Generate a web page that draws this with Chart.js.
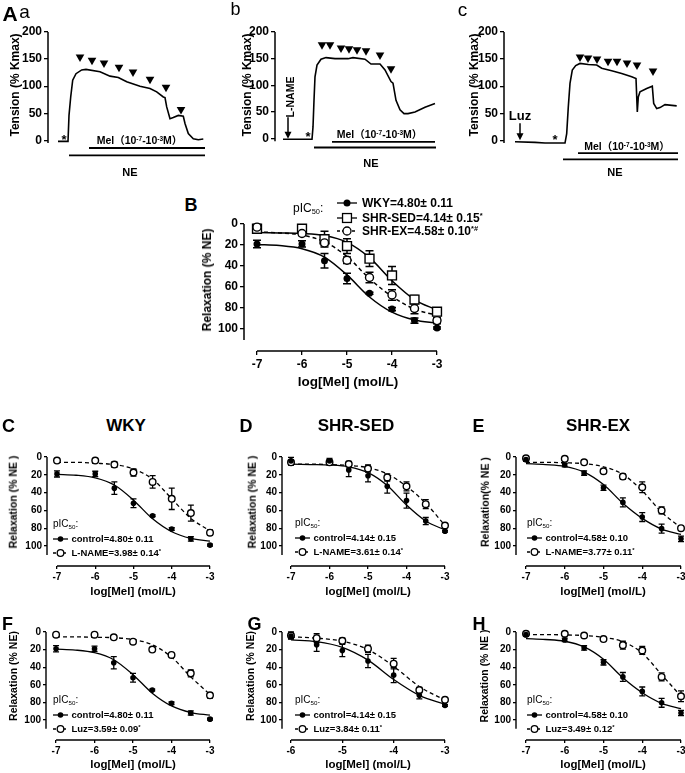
<!DOCTYPE html>
<html><head><meta charset="utf-8">
<script src="https://cdn.jsdelivr.net/npm/chart.js@4.4.1/dist/chart.umd.min.js"></script>
<style>
html,body{margin:0;padding:0;background:#fff;}
body{width:685px;height:773px;position:relative;overflow:hidden;font-family:"Liberation Sans",Arial,"Noto Sans CJK SC",sans-serif;color:#000;}
canvas{position:absolute;}
.t{position:absolute;white-space:nowrap;line-height:1;}
.sup{font-size:.62em;position:relative;top:-.5em;}
.sub{font-size:.62em;position:relative;top:.3em;}
</style></head><body>
<script>
// ================= DATA =================
// dose-response (log[Mel] mol/L)
const doses  = [-7, -6, -5.5, -5, -4.5, -4, -3.5, -3];
const fitX   = [-7, -6.5, -6, -5.5, -5, -4.5, -4, -3.5, -3];
const xTicks  = [-7, -6, -5, -4, -3];
const xTicksG = [-6, -5, -4, -3];
const relaxTicks   = [0, 20, 40, 60, 80, 100];
const tensionTicks = [0, 50, 100, 150, 200];

const wkyMean = [19, 19, 35, 52, 66, 81, 92, 99];
const wkySem  = [3.5, 3, 7, 5, 1, 1.5, 2.5, 1];
const wkyFit  = [19.5, 20.5, 23.5, 31.5, 48.5, 69.5, 84, 91.5, 94.5];

const sedMean = [4.5, 4.5, 14.5, 21, 33, 49, 72, 83.5];
const sedSem  = [4, 3, 7.5, 7, 7.5, 8.5, 4, 1];
const sedFit  = [8, 8.5, 9, 11, 17.5, 32, 54, 72, 82];

const exMean = [3, 9, 18, 34.5, 51, 67.5, 80.5, 92];
const exSem  = [2, 2, 2.5, 3, 5, 5, 5, 3];
const exFit  = [7.5, 8.5, 10.5, 17, 31, 52, 69, 81, 87];

const lnameWkyMean = [4, 4, 8.5, 17.5, 28, 47, 63, 85];
const lnameWkySem  = [1, 1, 3, 4, 7, 12, 9, 3];
const lnameWkyFit  = [6, 6, 7, 8.5, 13.5, 25, 47, 69, 83];

const lnameSedMean = [6, 6, 8, 13, 23, 33, 53, 77];
const lnameSedSem  = [3, 3, 3, 4, 4, 5, 5, 1.5];
const lnameSedFit  = [8, 8, 8.5, 9.5, 12, 19, 33, 52, 77];

const lnameExMean = [1.5, 2, 6, 16, 22, 34, 60, 80];
const lnameExSem  = [1, 1, 1.5, 2, 3, 6, 4, 2];
const lnameExFit  = [6, 6, 6.5, 7.5, 11, 19.5, 38, 62, 79.5];

const luzWkyMean = [3, 3, 6, 11, 20, 26, 47, 72];
const luzWkySem  = [1, 1, 1, 1, 1, 1.5, 4, 3];
const luzWkyFit  = [5.5, 5.5, 6, 6.5, 8.5, 14.5, 28.5, 51, 71];

const dosesG     = [-6, -5.5, -5, -4.5, -4, -3.5, -3];
const fitXG      = [-6, -5.5, -5, -4.5, -4, -3.5, -3];
const luzSedMean = [4, 7, 10, 19, 36, 66, 77];
const luzSedSem  = [4, 5, 3, 4, 6, 3, 1];
const luzSedFit  = [5.5, 7, 10.5, 20, 39, 62, 77.5];

const luzExMean = [2, 2, 4, 8, 15, 21, 51, 73];
const luzExSem  = [1, 1, 1, 1, 4.5, 4.5, 4.5, 6];
const luzExFit  = [3, 3, 3.3, 4, 6, 11, 24, 48.5, 73];

// tension traces (time, arbitrary units; tension % Kmax)
const traceATime = [10, 20, 21, 22.7, 24.7, 28, 33.7, 38, 52, 62, 70.3, 78.7, 92, 102, 108.7, 115.3, 117, 118.7, 122, 125.3, 130.3, 135.3, 137, 140.3, 145.3, 150.3, 155.3];
const traceATens = [-2, -2, 46, 80, 111, 123, 130, 131, 126.5, 118.5, 116, 108, 100, 95.7, 89.5, 80, 79, 61.7, 40, 42, 46, 44.5, 31, 12.4, 3, 1.2, 2.4];
const melATime = [32, 44, 56, 71, 85, 102, 118, 133];
const melATens = [154, 148, 143, 135, 126, 113, 98, 57];

const traceBTime = [8, 37, 38, 39, 40, 42, 46, 51, 60, 73, 78, 90, 96, 105, 110, 116, 118, 121, 125, 129, 133, 140, 150, 160];
const traceBTens = [-1, -1, 22, 72, 116, 138, 149, 152, 150, 150, 152, 149, 140, 140, 129, 107, 104, 72, 54, 47, 47, 50, 59, 66];
const melBTime = [47, 55, 66, 74, 82, 91, 105, 116];
const melBTens = [176, 176, 170, 168.5, 166.7, 165, 157, 131];

const traceCTime = [11, 31, 41, 61, 62.7, 64.3, 66, 68.3, 71.7, 76, 84.3, 92.7, 97.7, 107.7, 117.7, 127.7, 132, 133.3, 134.3, 136, 142.7, 148.3, 149.7, 152.7, 156, 161, 172.7];
const traceCTens = [-2.5, -3.7, -5, -5, 12.4, 61.7, 105, 129.6, 138, 142, 140, 139, 133, 128.4, 123.5, 117.3, 114, 52.5, 80, 89.5, 95.7, 100, 68, 58.6, 60.5, 66, 63.6];
const melCTime = [76, 84, 93, 104, 113, 123, 133, 149];
const melCTens = [154, 152, 150, 146, 146, 143, 139, 128];

// drug application periods (time)
const melPeriodA = [41, 157], nePeriodA = [21, 157];
const melPeriodB = [57, 160], nePeriodB = [39, 161];
const melPeriodC = [74, 174], nePeriodC = [59, 174];

// ================= HELPERS =================
Chart.defaults.font.family = "'Liberation Sans', Arial, sans-serif";
Chart.defaults.color = '#000';
const pts = (xs, ys) => xs.map((x, i) => ({x, y: ys[i]}));

function makeChart(o) {
  const yw = 40, pt = 12, pr = 12, pb = 12;
  const xh = o.xh || 0;
  const w = Math.round((o.R - o.L) + yw + pr);
  const h = Math.round((o.B - o.T) + pt + xh + pb);
  const c = document.createElement('canvas');
  c.width = w; c.height = h;
  c.style.left = (o.L - yw) + 'px'; c.style.top = (o.T - pt) + 'px';
  c.style.width = w + 'px'; c.style.height = h + 'px';
  document.body.appendChild(c);
  o.scales.y.afterFit = s => { s.width = yw; };
  if (o.scales.x.display !== false) o.scales.x.afterFit = s => { s.height = xh; };
  const ax = o.axes;
  const plugins = [{
    id: 'gpAxes',
    afterDatasetsDraw(chart) {
      const {ctx, chartArea: ca, scales: {x, y}} = chart;
      ctx.save(); ctx.strokeStyle = '#000'; ctx.lineWidth = ax.lw;
      ctx.beginPath();
      ctx.moveTo(ca.left, y.getPixelForValue(ax.yFrom)); ctx.lineTo(ca.left, y.getPixelForValue(ax.yTo));
      if (ax.xFrom !== undefined) {
        ctx.moveTo(x.getPixelForValue(ax.xFrom), ca.bottom); ctx.lineTo(x.getPixelForValue(ax.xTo), ca.bottom);
      }
      ctx.stroke(); ctx.restore();
    }
  }, {
    id: 'errbars',
    beforeDatasetsDraw(chart) {
      const {ctx, scales: {y}} = chart;
      chart.data.datasets.forEach((ds, i) => {
        if (!ds.sem) return;
        const meta = chart.getDatasetMeta(i);
        ctx.save(); ctx.strokeStyle = '#000'; ctx.lineWidth = o.errLw || 1.4;
        meta.data.forEach((p, j) => {
          const s = ds.sem[j]; if (!s) return;
          const v = ds.data[j].y;
          const y1 = y.getPixelForValue(v - s), y2 = y.getPixelForValue(v + s), hw = o.cap / 2;
          ctx.beginPath();
          ctx.moveTo(p.x, y1); ctx.lineTo(p.x, y2);
          ctx.moveTo(p.x - hw, y1); ctx.lineTo(p.x + hw, y1);
          ctx.moveTo(p.x - hw, y2); ctx.lineTo(p.x + hw, y2);
          ctx.stroke();
        });
        ctx.restore();
      });
    }
  }, {
    id: 'arrows',
    afterDatasetsDraw(chart) {
      if (!o.arrows) return;
      const {ctx, scales: {x, y}} = chart;
      o.arrows.forEach(a => {
        const px = x.getPixelForValue(a.x), y0 = y.getPixelForValue(a.from), y1 = y.getPixelForValue(a.to);
        ctx.save(); ctx.strokeStyle = '#000'; ctx.fillStyle = '#000'; ctx.lineWidth = 1.5;
        ctx.beginPath(); ctx.moveTo(px, y0); ctx.lineTo(px, y1 - 5); ctx.stroke();
        ctx.beginPath(); ctx.moveTo(px - 3.5, y1 - 7); ctx.lineTo(px + 3.5, y1 - 7); ctx.lineTo(px, y1); ctx.closePath(); ctx.fill();
        ctx.restore();
      });
    }
  }];
  return new Chart(c, {
    type: 'line',
    data: {datasets: o.datasets},
    options: {
      responsive: false, animation: false, devicePixelRatio: 1,
      layout: {padding: {top: pt, right: pr, bottom: pb, left: 0}},
      plugins: {legend: {display: false}, tooltip: {enabled: false}},
      scales: o.scales
    },
    plugins
  });
}

function gridOpt(len) {
  return {display: true, drawOnChartArea: false, drawTicks: true, tickLength: len, color: '#000', lineWidth: 1.3};
}

function drScales(xMin, xMax, yMax, xt, fs, tl) {
  return {
    x: {type: 'linear', min: xMin, max: xMax,
        afterBuildTicks: s => { s.ticks = xt.map(v => ({value: v})); },
        grid: gridOpt(tl), border: {display: false},
        ticks: {font: {size: fs, weight: 'bold'}, color: '#000', padding: 2, maxRotation: 0, autoSkip: false}},
    y: {type: 'linear', reverse: true, min: 0, max: yMax,
        afterBuildTicks: s => { s.ticks = relaxTicks.map(v => ({value: v})); },
        grid: gridOpt(tl), border: {display: false},
        ticks: {font: {size: fs, weight: 'bold'}, color: '#000', padding: 2, autoSkip: false}}
  };
}

function curve(xs, ys, dashed, lw) {
  return {data: pts(xs, ys), borderColor: '#000', borderWidth: lw || 1.3, borderDash: dashed ? [4, 3] : [],
          pointRadius: 0, cubicInterpolationMode: 'monotone', fill: false, clip: false, order: 2};
}
function points(xs, ys, sem, kind, r) {
  const filled = kind === 'dot';
  return {data: pts(xs, ys), sem, showLine: false, pointStyle: kind === 'square' ? 'rect' : 'circle',
          pointRadius: r, pointBackgroundColor: filled ? '#000' : '#fff', pointBorderColor: '#000',
          pointBorderWidth: filled ? 0 : 1.4, borderColor: '#000', clip: false, order: 0};
}

function traceChart(o) {
  return makeChart({
    L: o.L, T: o.T, R: o.R, B: o.B, cap: 0,
    axes: {lw: 1.5, yFrom: -5, yTo: 200},
    arrows: o.arrows,
    scales: {
      x: {type: 'linear', display: false, min: 0, max: o.tMax},
      y: {type: 'linear', min: -40, max: 200,
          afterBuildTicks: s => { s.ticks = tensionTicks.map(v => ({value: v})); },
          grid: gridOpt(4), border: {display: false},
          ticks: {font: {size: 12, weight: 'bold'}, color: '#000', padding: 2, autoSkip: false}}
    },
    datasets: [
      {data: pts(o.t, o.v), borderColor: '#000', borderWidth: 1.6, pointRadius: 0, tension: 0, fill: false, clip: false, order: 2},
      {data: pts(o.tt, o.tv), showLine: false, pointStyle: 'triangle', pointRotation: 180, pointRadius: 5,
       pointBackgroundColor: '#000', pointBorderWidth: 0, clip: false, order: 0},
      {data: pts(o.mel, [o.melY, o.melY]), borderColor: '#000', borderWidth: 1.8, pointRadius: 0, clip: false, order: 1},
      {data: pts(o.ne, [o.neY, o.neY]), borderColor: '#000', borderWidth: 1.8, pointRadius: 0, clip: false, order: 1}
    ]
  });
}

function txt(html, cx, cy, size, weight, extra) {
  const d = document.createElement('div');
  d.className = 't';
  d.innerHTML = html;
  d.style.left = cx + 'px'; d.style.top = cy + 'px';
  d.style.fontSize = size + 'px'; d.style.fontWeight = weight;
  d.style.transform = 'translate(-50%,-50%)' + (extra ? ' ' + extra : '');
  document.body.appendChild(d);
}
function txtL(html, x, cy, size, weight) {
  const d = document.createElement('div');
  d.className = 't';
  d.innerHTML = html;
  d.style.left = x + 'px'; d.style.top = cy + 'px';
  d.style.fontSize = size + 'px'; d.style.fontWeight = weight;
  d.style.transform = 'translateY(-50%)';
  document.body.appendChild(d);
}
function icon(w, kind, dashed, r) {
  let m = '';
  const c = w / 2;
  if (kind === 'dot') m = `<circle cx="${c}" cy="6" r="${r}" fill="#000"/>`;
  else if (kind === 'circle') m = `<circle cx="${c}" cy="6" r="${r}" fill="#fff" stroke="#000" stroke-width="1.3"/>`;
  else { const s = r * 1.414; m = `<rect x="${c - s / 2}" y="${6 - s / 2}" width="${s}" height="${s}" fill="#fff" stroke="#000" stroke-width="1.3"/>`; }
  return `<svg width="${w}" height="12" viewBox="0 0 ${w} 12" style="display:block"><line x1="0" y1="6" x2="${w}" y2="6" stroke="#000" stroke-width="1.3"${dashed ? ' stroke-dasharray="3,2"' : ''}/>${m}</svg>`;
}
function legRow(x, cy, w, kind, dashed, r, text, size, gap) {
  const d = document.createElement('div');
  d.className = 't';
  d.style.left = x + 'px'; d.style.top = cy + 'px';
  d.style.fontSize = size + 'px'; d.style.fontWeight = 'bold';
  d.style.transform = 'translateY(-50%)';
  d.style.display = 'flex'; d.style.alignItems = 'center';
  d.innerHTML = icon(w, kind, dashed, r) + `<span style="margin-left:${gap}px">${text}</span>`;
  document.body.appendChild(d);
}

// ================= PANEL A (traces) =================
traceChart({L: 48, T: 32, R: 208, B: 161.6, tMax: 160, t: traceATime, v: traceATens, tt: melATime, tv: melATens,
            mel: melPeriodA, melY: -14.2, ne: nePeriodA, neY: -27.8});
traceChart({L: 275, T: 32.3, R: 440, B: 159.8, tMax: 165, t: traceBTime, v: traceBTens, tt: melBTime, tv: melBTens,
            mel: melPeriodB, melY: -6, ne: nePeriodB, neY: -16.6, arrows: [{x: 13, from: 40, to: 0}]});
traceChart({L: 504, T: 32, R: 680, B: 161.6, tMax: 176, t: traceCTime, v: traceCTens, tt: melCTime, tv: melCTens,
            mel: melPeriodC, melY: -23.5, ne: nePeriodC, neY: -35.2, arrows: [{x: 16, from: 31.5, to: 0}]});

txt('A', 10, 12.5, 21, 'bold');
txt('a', 24.5, 11, 19, 'normal');
txt('b', 235.5, 8.5, 18, 'normal');
txt('c', 462.5, 8.5, 19, 'normal');
[15, 246.5, 473.5].forEach(x => txt('Tension (% Kmax)', x, 85, 12, 'bold', 'rotate(-90deg)'));
const melLabel = 'Mel（10<span class="sup">-7</span>-10<span class="sup">-3</span>M）';
txt(melLabel, 139.5, 140, 10.5, 'bold');
txt(melLabel, 379.5, 134, 10.5, 'bold');
txt(melLabel, 627, 146, 10.5, 'bold');
txt('NE', 130, 172, 11, 'bold');
txt('NE', 371, 163, 11, 'bold');
txt('NE', 615, 172, 11, 'bold');
txt('*', 64, 138.5, 13, 'bold');
txt('*', 308, 135.5, 13, 'bold');
txt('*', 555, 138.5, 13, 'bold');
txt('L-NAME', 290, 97, 10.5, 'bold', 'rotate(-90deg)');
txt('Luz', 520, 115, 13, 'bold');

// ================= PANEL B =================
makeChart({
  L: 244, T: 224, R: 437, B: 351, xh: 25, cap: 8, errLw: 1.5,
  axes: {lw: 1.5, yFrom: 0, yTo: 110.5, xFrom: -7, xTo: -3},
  scales: drScales(-7.289, -3, 120.95, xTicks, 12, 4),
  datasets: [
    points(doses, wkyMean, wkySem, 'dot', 3.5),
    points(doses, exMean, exSem, 'circle', 4),
    points(doses, sedMean, sedSem, 'square', 6.3),
    curve(fitX, wkyFit, false, 1.5),
    curve(fitX, sedFit, false, 1.5),
    curve(fitX, exFit, true, 1.5)
  ]
});
txt('B', 191, 204.7, 18, 'bold');
txt('Relaxation (% NE)', 207, 280, 12, 'bold', 'rotate(-90deg)');
txt('log[Mel] (mol/L)', 348, 382, 13.5, 'bold');
txtL('pIC<span class="sub">50</span>:', 293, 208, 12, 'normal');
legRow(337, 203, 20, 'dot', false, 3.5, 'WKY=4.80± 0.11', 12, 5);
legRow(337, 218, 20, 'square', false, 6.3, 'SHR-SED=4.14± 0.15<span class="sup">*</span>', 12, 5);
legRow(337, 231, 20, 'circle', true, 4, 'SHR-EX=4.58± 0.10<span class="sup">*#</span>', 12, 5);

// ================= PANELS C-H =================
function drPanel(p) {
  makeChart({
    L: p.L, T: p.T, R: p.R, B: p.B, xh: 25, cap: 6, errLw: 1.3,
    axes: {lw: 1.4, yFrom: 0, yTo: 110, xFrom: p.xt[0], xTo: p.xt[p.xt.length - 1]},
    scales: drScales(p.xMin, -3, p.yMax, p.xt, 10, 3),
    datasets: [
      points(p.cx, p.cMean, p.cSem, 'dot', 2.8),
      points(p.tx, p.tMean, p.tSem, 'circle', 3.3),
      curve(p.cfx, p.cFit, false, 1.3),
      curve(p.tfx, p.tFit, true, 1.3)
    ]
  });
  txt(p.letter, p.letterX, p.letterY, 18, 'bold');
  if (p.title) txt(p.title, p.titleX, 425, 17, 'bold');
  txt(p.yTitle, p.yTitleX, p.yTitleY, 10.5, 'bold', 'rotate(-90deg)');
  txt('log[Mel] (mol/L)', p.xTitleX, p.xTitleY, 11.5, 'bold');
  txtL('pIC<span class="sub">50</span>:', p.legX, p.legY, 10, 'normal');
  legRow(p.legX, p.legY + 15, 15, 'dot', false, 2.8, p.cText, 9.5, 3.5);
  legRow(p.legX, p.legY + 29, 15, 'circle', true, 3.3, p.tText, 9.5, 3.5);
}
const row1 = {T: 457, B: 566, yMax: 122.5, yTitleY: 502, xTitleY: 592, letterY: 425.5};
const row2 = {T: 632, B: 740, yMax: 122.7, yTitleY: 676, xTitleY: 765, letterY: 623.5};

drPanel(Object.assign({}, row1, {L: 47, R: 210, xMin: -7.261, xt: xTicks, letter: 'C', letterX: 8.5, title: 'WKY', titleX: 126,
  yTitle: 'Relaxation (% NE )', yTitleX: 13, xTitleX: 133, legX: 53, legY: 524,
  cx: doses, cMean: wkyMean, cSem: wkySem, cfx: fitX, cFit: wkyFit,
  tx: doses, tMean: lnameWkyMean, tSem: lnameWkySem, tfx: fitX, tFit: lnameWkyFit,
  cText: 'control=4.80± 0.11', tText: 'L-NAME=3.98± 0.14<span class="sup">*</span>'}));
drPanel(Object.assign({}, row1, {L: 282, R: 445, xMin: -7.234, xt: xTicks, letter: 'D', letterX: 246, title: 'SHR-SED', titleX: 356,
  yTitle: 'Relaxation (% NE )', yTitleX: 252, xTitleX: 368, legX: 295, legY: 523,
  cx: doses, cMean: sedMean, cSem: sedSem, cfx: fitX, cFit: sedFit,
  tx: doses, tMean: lnameSedMean, tSem: lnameSedSem, tfx: fitX, tFit: lnameSedFit,
  cText: 'control=4.14± 0.15', tText: 'L-NAME=3.61± 0.14<span class="sup">*</span>'}));
drPanel(Object.assign({}, row1, {L: 516, R: 681, xMin: -7.258, xt: xTicks, letter: 'E', letterX: 478.5, title: 'SHR-EX', titleX: 598,
  yTitle: 'Relaxation(% NE )', yTitleX: 485, xTitleX: 603, legX: 527, legY: 523,
  cx: doses, cMean: exMean, cSem: exSem, cfx: fitX, cFit: exFit,
  tx: doses, tMean: lnameExMean, tSem: lnameExSem, tfx: fitX, tFit: lnameExFit,
  cText: 'control=4.58± 0.10', tText: 'L-NAME=3.77± 0.11<span class="sup">*</span>'}));
drPanel(Object.assign({}, row2, {L: 46, R: 210, xMin: -7.261, xt: xTicks, letter: 'F', letterX: 7.5,
  yTitle: 'Relaxation (% NE)', yTitleX: 13, xTitleX: 133, legX: 53, legY: 700,
  cx: doses, cMean: wkyMean, cSem: wkySem, cfx: fitX, cFit: wkyFit,
  tx: doses, tMean: luzWkyMean, tSem: luzWkySem, tfx: fitX, tFit: luzWkyFit,
  cText: 'control=4.80± 0.11', tText: 'Luz=3.59± 0.09<span class="sup">*</span>'}));
drPanel(Object.assign({}, row2, {L: 282, R: 445, xMin: -6.175, xt: xTicksG, letter: 'G', letterX: 254.5,
  yTitle: 'Relaxation (% NE)', yTitleX: 250, xTitleX: 368, legX: 295, legY: 700,
  cx: dosesG, cMean: sedMean.slice(1), cSem: sedSem.slice(1), cfx: fitXG, cFit: sedFit.slice(2),
  tx: dosesG, tMean: luzSedMean, tSem: luzSedSem, tfx: fitXG, tFit: luzSedFit,
  cText: 'control=4.14± 0.15', tText: 'Luz=3.84± 0.11<span class="sup">*</span>'}));
drPanel(Object.assign({}, row2, {L: 516, R: 681, xMin: -7.258, xt: xTicks, letter: 'H', letterX: 479,
  yTitle: 'Relaxation (% NE )', yTitleX: 484, xTitleX: 603, legX: 527, legY: 700,
  cx: doses, cMean: exMean, cSem: exSem, cfx: fitX, cFit: exFit,
  tx: doses, tMean: luzExMean, tSem: luzExSem, tfx: fitX, tFit: luzExFit,
  cText: 'control=4.58± 0.10', tText: 'Luz=3.49± 0.12<span class="sup">*</span>'}));
</script>
</body></html>
